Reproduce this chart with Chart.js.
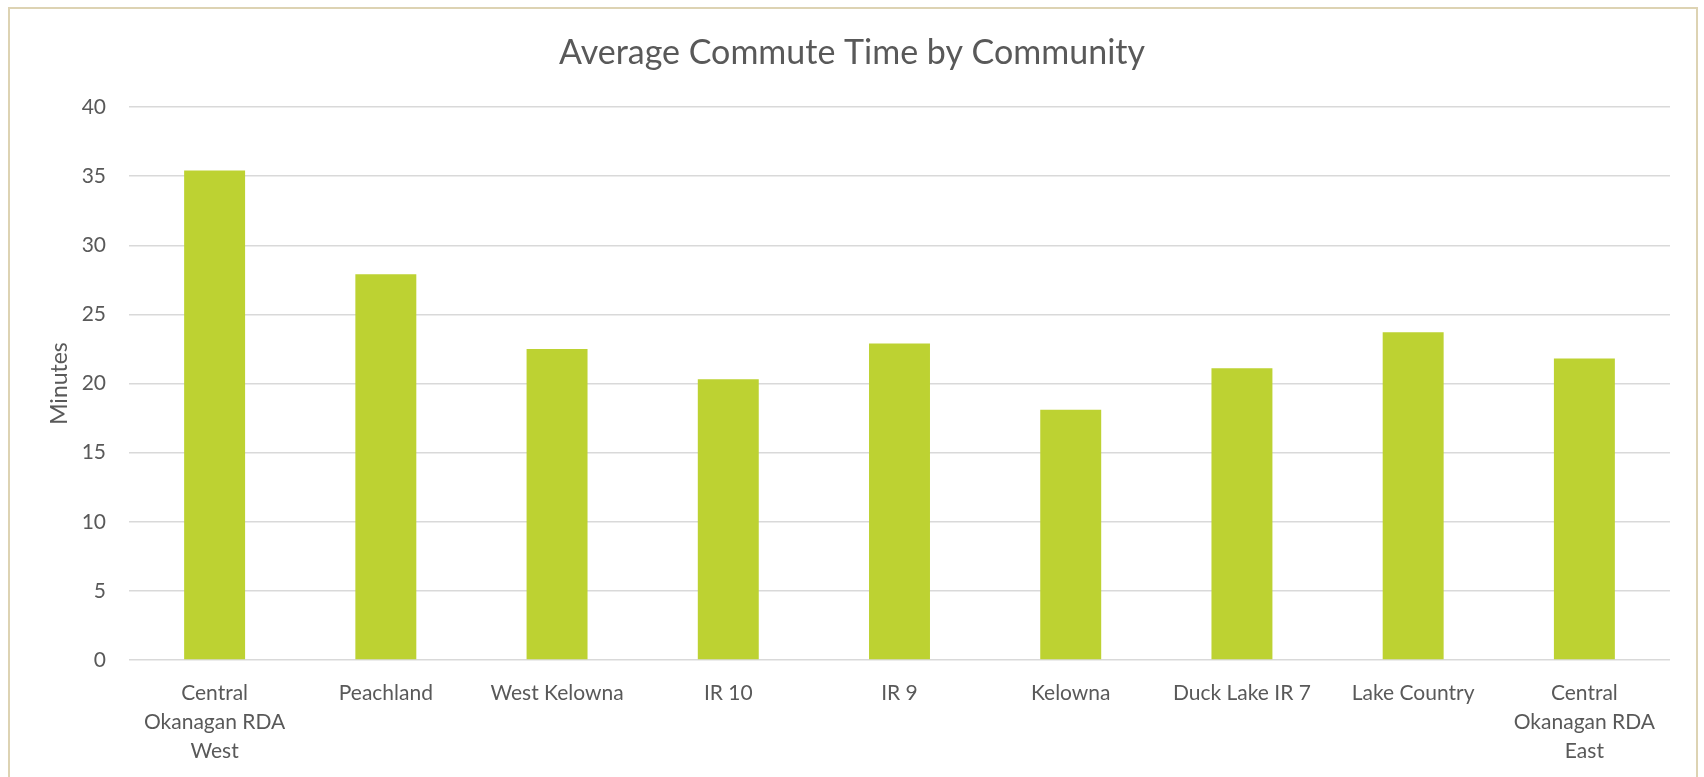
<!DOCTYPE html>
<html>
<head>
<meta charset="utf-8">
<title>Average Commute Time by Community</title>
<script src="https://cdn.jsdelivr.net/npm/chart.js@4.4.0/dist/chart.umd.min.js"></script>
<style>
    html, body { margin: 0; padding: 0; background: #fff; overflow: hidden; }
    #wrap { position: relative; width: 1704px; height: 777px; }
    #frame {
        position: absolute; left: 8px; top: 7px; width: 1690px; height: 820px;
        border: 2px solid #ddd3b3; box-sizing: border-box;
    }
    #chart { position: absolute; left: 0; top: 0; }
</style>
</head>
<body>
<div id="wrap">
    <div id="frame"></div>
    <canvas id="chart" width="1704" height="777"></canvas>
</div>
<script>
// Commute data per community (minutes)
const communities = [
    ['Central', 'Okanagan RDA', 'West'],
    'Peachland',
    'West Kelowna',
    'IR 10',
    'IR 9',
    'Kelowna',
    'Duck Lake IR 7',
    'Lake Country',
    ['Central', 'Okanagan RDA', 'East']
];
const commuteMinutes = [35.4, 27.9, 22.5, 20.3, 22.9, 18.1, 21.1, 23.7, 21.8];
const yTicks = [0, 5, 10, 15, 20, 25, 30, 35, 40];

const textColor = '#595959';
const gridColor = '#d9d9d9';
const barColor = '#bdd232';

Chart.defaults.font.family = 'Lato, "Open Sans", sans-serif';
Chart.defaults.color = textColor;

function drawChart() {
    const ctx = document.getElementById('chart').getContext('2d');
    new Chart(ctx, {
        type: 'bar',
        data: {
            labels: communities,
            datasets: [{
                label: 'Minutes',
                data: commuteMinutes,
                backgroundColor: barColor,
                borderWidth: 0,
                categoryPercentage: 1,
                barPercentage: 0.356
            }]
        },
        options: {
            responsive: false,
            animation: false,
            // equal side padding keeps the title centred on the canvas
            layout: {
                padding: { left: 34, right: 34, top: 0, bottom: 0 }
            },
            scales: {
                x: {
                    grid: { display: false },
                    border: { display: false },
                    ticks: {
                        padding: 11,
                        maxRotation: 0,
                        autoSkip: false,
                        font: { size: 21, lineHeight: 1.38 }
                    },
                    afterFit: function(scale) {
                        scale.height = 117;
                    }
                },
                y: {
                    min: 0,
                    max: 40,
                    afterBuildTicks: function(scale) {
                        scale.ticks = yTicks.map(v => ({ value: v }));
                    },
                    grid: {
                        color: gridColor,
                        lineWidth: 1.5,
                        drawTicks: false
                    },
                    border: { display: false },
                    ticks: {
                        padding: 23,
                        font: { size: 21 }
                    },
                    title: {
                        display: true,
                        text: 'Minutes',
                        color: textColor,
                        font: { size: 23 },
                        padding: { top: 12, bottom: 0 }
                    },
                    afterFit: function(scale) {
                        scale.width = 95;
                    }
                }
            },
            plugins: {
                legend: { display: false },
                tooltip: { enabled: false },
                title: {
                    display: true,
                    text: 'Average Commute Time by Community',
                    color: textColor,
                    font: { size: 34, weight: 'normal', lineHeight: 1.2 },
                    padding: { top: 32.8, bottom: 33.4 }
                }
            }
        }
    });
}

if (document.fonts && document.fonts.load) {
    document.fonts.load('21px Lato').then(drawChart, drawChart);
} else {
    drawChart();
}
</script>
</body>
</html>
